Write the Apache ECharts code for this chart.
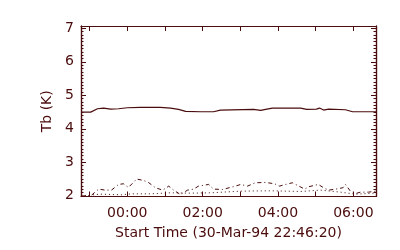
<!DOCTYPE html>
<html>
<head>
<meta charset="utf-8">
<script src="https://cdn.jsdelivr.net/npm/echarts@6/dist/echarts.min.js"></script>
<style>html,body{margin:0;padding:0;background:#fff}#c{width:400px;height:250px}</style>
</head>
<body>
<div id="c"></div>
<script>
// hours relative to 00:00 (start 30-Mar-94 22:46:20)
const solidHours = [-1.228,-0.97,-0.79,-0.63,-0.44,-0.23,0,0.35,0.88,1.15,1.36,1.55,1.94,2.29,2.47,3.35,3.54,3.67,3.85,4.60,4.76,5.02,5.10,5.21,5.34,5.79,5.98,6.6];
const solidVals  = [4.50,4.50,4.60,4.62,4.59,4.60,4.63,4.64,4.64,4.62,4.58,4.52,4.51,4.51,4.56,4.58,4.55,4.58,4.62,4.62,4.58,4.59,4.62,4.56,4.59,4.57,4.51,4.51];
const dashHours = [-1.228,-0.97,-0.76,-0.58,-0.42,-0.23,-0.10,0.03,0.25,0.43,0.56,0.75,0.94,1.10,1.23,1.41,1.60,1.76,1.89,2.16,2.29,2.53,2.87,3.01,3.19,3.40,3.67,3.91,4.04,4.20,4.38,4.52,4.71,4.81,5.07,5.21,5.34,5.53,5.72,5.79,5.92,6.06,6.19,6.40,6.6];
const dashVals  = [2.00,2.00,2.20,2.17,2.17,2.34,2.36,2.25,2.50,2.46,2.40,2.24,2.17,2.29,2.17,2.04,2.17,2.20,2.29,2.34,2.20,2.19,2.29,2.34,2.29,2.39,2.40,2.36,2.29,2.34,2.39,2.31,2.20,2.27,2.34,2.24,2.17,2.20,2.24,2.34,2.14,2.07,2.11,2.11,2.14];
const dotHours = [-1.228,-0.71,-0.15,0.11,0.62,1.15,1.68,2.21,3.01,3.81,4.60,5.13,5.66,6.06,6.6];
const dotVals  = [2.00,2.05,2.03,2.06,2.06,2.09,2.08,2.09,2.14,2.15,2.13,2.17,2.11,2.05,2.08];
const xTickHours = [-1,0,1,2,3,4,5,6];
const xLabelHours = [0,2,4,6];
const xLabelTexts = ['00:00','02:00','04:00','06:00'];
const yMajor = [2,3,4,5,6,7];

const C = '#4a0c0c';
const yMinor = [];
for (let v = 20; v <= 70; v++) yMinor.push(v / 10);
const font = {color: C, fontFamily: 'DejaVu Sans', fontSize: 14};
const XMIN = -1.2278, XMAX = 6.6, YMIN = 1.98, YMAX = 7.07;
function pair(h, v){ return h.map((x,i)=>[x, v[i]]); }
const baseX = {type:'value', min:XMIN, max:XMAX, splitLine:{show:false}, axisLine:{show:true, onZero:false, lineStyle:{color:C, width:1.2}}};
const baseY = {type:'value', min:YMIN, max:YMAX, splitLine:{show:false}, axisLine:{show:true, onZero:false, lineStyle:{color:C, width:1.2}}};
const chart = echarts.init(document.getElementById('c'), null, {renderer:'canvas'});
chart.setOption({
  animation:false,
  backgroundColor:'#fff',
  grid:{left:81, right:24, top:26, bottom:53.5},
  xAxis:[
    Object.assign({}, baseX, {position:'bottom', name:'Start Time (30-Mar-94 22:46:20)', nameLocation:'middle', nameGap:30, nameTextStyle:font,
      axisTick:{show:true, inside:true, length:5, customValues:xTickHours, lineStyle:{color:C}},
      axisLabel:Object.assign({show:true, margin:10, customValues:xLabelHours, formatter:(v)=>xLabelTexts[xLabelHours.indexOf(v)]}, font)}),
    Object.assign({}, baseX, {position:'top',
      axisTick:{show:true, inside:true, length:5, customValues:xTickHours, lineStyle:{color:C}},
      axisLabel:{show:false}})
  ],
  yAxis:[
    Object.assign({}, baseY, {position:'left', name:'Tb (K)', nameLocation:'middle', nameGap:27, nameTextStyle:font,
      axisTick:{show:true, inside:true, length:5, customValues:yMajor, lineStyle:{color:C}},
      axisLabel:Object.assign({show:true, margin:7, customValues:yMajor}, font)}),
    Object.assign({}, baseY, {position:'left',
      axisTick:{show:true, inside:true, length:2.5, customValues:yMinor, lineStyle:{color:C}},
      axisLabel:{show:false}}),
    Object.assign({}, baseY, {position:'right',
      axisTick:{show:true, inside:true, length:5, customValues:yMajor, lineStyle:{color:C}},
      axisLabel:{show:false}}),
    Object.assign({}, baseY, {position:'right',
      axisTick:{show:true, inside:true, length:2.5, customValues:yMinor, lineStyle:{color:C}},
      axisLabel:{show:false}})
  ],
  series:[
    {type:'line', data:pair(solidHours, solidVals), showSymbol:false, lineStyle:{color:C, width:1.2}, xAxisIndex:0, yAxisIndex:0},
    {type:'line', data:pair(dashHours, dashVals), showSymbol:false, lineStyle:{color:C, width:1, type:[4,3,1,3]}, xAxisIndex:0, yAxisIndex:0},
    {type:'line', data:pair(dotHours, dotVals), showSymbol:false, lineStyle:{color:C, width:1, type:[1,3]}, xAxisIndex:0, yAxisIndex:0}
  ]
});
</script>
</body>
</html>
